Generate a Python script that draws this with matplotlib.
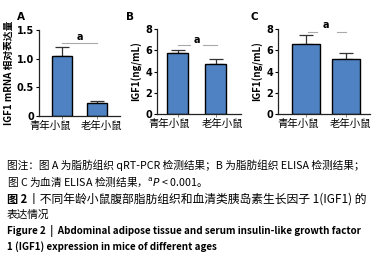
import matplotlib
matplotlib.use('Agg')

import matplotlib.pyplot as plt

plt.rcParams['font.family'] = ['Noto Sans CJK SC', 'DejaVu Sans']

# ==========================================
# DATA
# ==========================================
groups = ["青年小鼠", "老年小鼠"]

a_mean = [1.05, 0.23]
a_err = [0.16, 0.03]
b_mean = [5.75, 4.75]
b_err = [0.25, 0.40]
c_mean = [6.6, 5.15]
c_err = [0.8, 0.55]

a_ticks = [0, 0.5, 1.0, 1.5]
a_ticklabels = ["0", "0.5", "1.0", "1.5"]
bc_ticks = [0, 2, 4, 6, 8]
bc_ticklabels = ["0", "2", "4", "6", "8"]

bar_color = "#4f82c2"
W, H = 380, 266

fig = plt.figure(figsize=(W / 100, H / 100), dpi=100)


def px_axes(x0, x1, ytop, ybot):
    return fig.add_axes([x0 / W, 1 - ybot / H, (x1 - x0) / W, (ybot - ytop) / H])


def panel(ax, means, errs, ymax, ticks, ticklabels, ylabel, ylsize, xlim, width, label_x,
          sig_y, sig_text_y, segs):
    x = [0, 1]
    ax.bar(x, means, width=width, color=bar_color, edgecolor="black", linewidth=1.0, zorder=2)
    ax.errorbar(x, means, yerr=[[0, 0], errs], fmt="none", ecolor="#333333",
                elinewidth=0.9, capsize=5, capthick=0.9, zorder=1)
    ax.set_xlim(*xlim)
    ax.set_ylim(0, ymax)
    ax.set_yticks(ticks)
    ax.set_yticklabels(ticklabels, fontsize=7, fontweight="bold", family="DejaVu Sans")
    ax.set_xticks(x)
    ax.set_xticklabels(["", ""])
    ax.set_xticks(label_x, minor=True)
    ax.set_xticklabels(groups, minor=True, fontsize=7.5)
    ax.tick_params(axis="y", length=2.5, width=0.8, pad=1)
    ax.tick_params(axis="x", which="major", length=2, width=0.7, color="#888888")
    ax.tick_params(axis="x", which="minor", length=0, pad=3.5)
    ax.spines["top"].set_visible(False)
    ax.spines["right"].set_visible(False)
    for s in ["left", "bottom"]:
        ax.spines[s].set_linewidth(0.9)
        ax.spines[s].set_color("#222222")
    ax.set_ylabel(ylabel, fontsize=ylsize, fontweight="bold", labelpad=2)
    # significance line
    for s0, s1 in segs:
        ax.plot([s0, s1], [sig_y, sig_y], color="#aaaaaa", lw=0.8, clip_on=False)
    ax.text(0.5, sig_text_y, "a", ha="center", va="center", fontsize=7,
            fontweight="bold", family="DejaVu Sans", clip_on=False)


axA = px_axes(39, 120, 30, 116)
panel(axA, a_mean, a_err, 1.5, a_ticks, a_ticklabels, "IGF1 mRNA 相对表达量", 7,
      (-0.66, 1.66), 0.58, [-0.33, 1.14], 1.27, 1.38, [(0.0, 1.0)])

axB = px_axes(157, 241, 29, 114)
panel(axB, b_mean, b_err, 8, bc_ticks, bc_ticklabels, "IGF1(ng/mL)", 7,
      (-0.54, 1.67), 0.57, [-0.21, 1.17], 6.5, 7.0, [(0.0, 0.33), (0.67, 1.03)])

axC = px_axes(278, 370, 29, 114)
panel(axC, c_mean, c_err, 8, bc_ticks, bc_ticklabels, "IGF1(ng/mL)", 7,
      (-0.7, 1.6), 0.7, [-0.2, 1.1], 7.7, 8.4, [(0.05, 0.28), (0.78, 1.0)])

for lab, xx in [("A", 21), ("B", 130), ("C", 254)]:
    fig.text(xx / W, 1 - 17 / H, lab, fontsize=7.5, fontweight="bold",
             family="DejaVu Sans", ha="center", va="center")

# ==========================================
# CAPTION
# ==========================================
cap = 7.7
fig.text(7 / W, 1 - 165 / H, "图注：图 A 为脂肪组织 qRT-PCR 检测结果；B 为脂肪组织 ELISA 检测结果；",
         fontsize=cap, ha="left", va="center")
fig.text(7 / W, 1 - 182 / H, r"图 C 为血清 ELISA 检测结果，$^{\mathrm{a}}P$ < 0.001。",
         fontsize=cap, ha="left", va="center")
fig.text(7 / W, 1 - 199 / H, "图 2", fontsize=8, fontweight="bold", ha="left", va="center")
fig.text(28 / W, 1 - 199 / H, "丨不同年龄小鼠腹部脂肪组织和血清类胰岛素生长因子 1(IGF1) 的",
         fontsize=8.5, ha="left", va="center")
fig.text(7 / W, 1 - 215 / H, "表达情况", fontsize=cap, ha="left", va="center")
fig.text(7 / W, 1 - 231 / H, "Figure 2  |  Abdominal adipose tissue and serum insulin-like growth factor",
         fontsize=7.1, fontweight="bold", ha="left", va="center")
fig.text(7 / W, 1 - 247 / H, "1 (IGF1) expression in mice of different ages",
         fontsize=7.1, fontweight="bold", ha="left", va="center")

plt.savefig("out.png", dpi=100)
plt.close()
